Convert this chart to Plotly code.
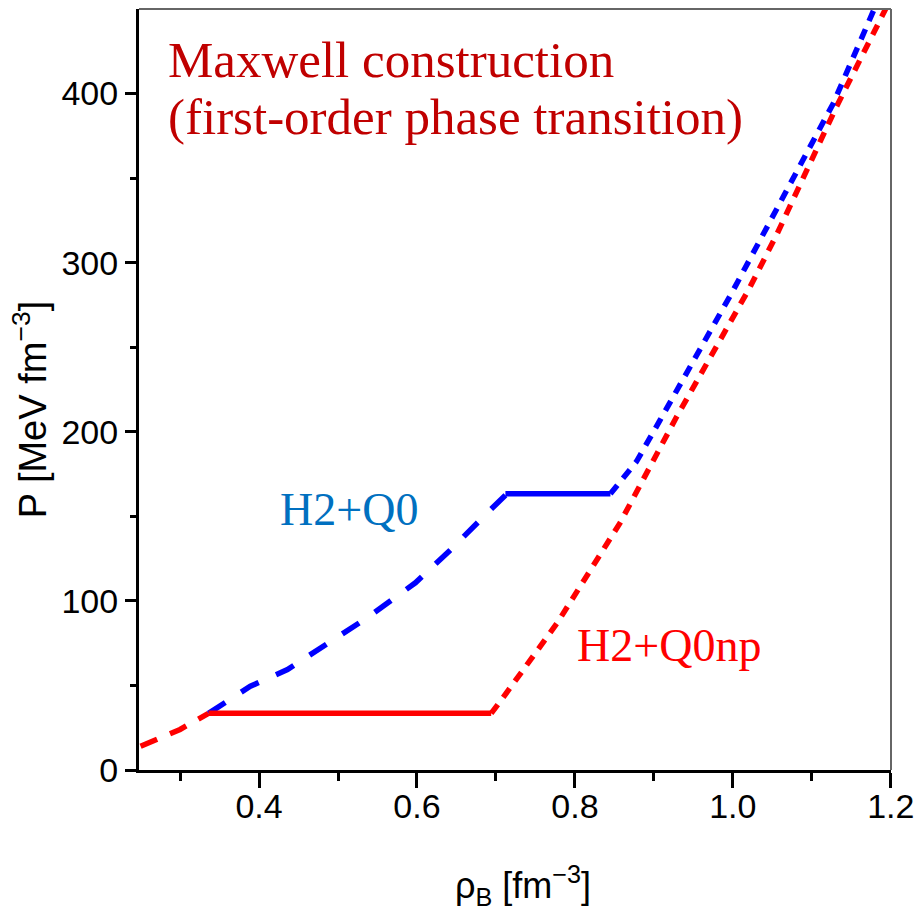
import plotly.graph_objects as go

# Baryon density [fm^-3] and pressure [MeV fm^-3]
# H2+Q0np (red): hadronic branch, Maxwell plateau, quark branch
red_low_rho = [0.25, 0.30, 0.336]
red_low_p = [14.0, 24.0, 33.5]
red_mix_rho = [0.336, 0.694]
red_mix_p = [33.5, 33.5]
red_high_rho = [0.694, 0.709, 0.778, 0.857, 0.929, 1.020, 1.056, 1.131, 1.194, 1.20]
red_high_p = [33.5, 42.8, 87.2, 146.0, 209.0, 284.0, 317.0, 392.0, 450.5, 457.0]

# H2+Q0 (blue): hadronic branch, Maxwell plateau, quark branch
blue_low_rho = [0.336, 0.389, 0.436, 0.490, 0.537, 0.598, 0.642, 0.689, 0.712]
blue_low_p = [33.5, 49.5, 59.4, 75.3, 90.0, 110.7, 130.0, 152.0, 162.5]
blue_mix_rho = [0.712, 0.845]
blue_mix_p = [163.3, 163.3]
blue_high_rho = [0.845, 0.857, 0.878, 0.908, 0.937, 0.9985, 1.127, 1.18]
blue_high_p = [163.3, 169.8, 182.4, 207.0, 230.7, 282.0, 394.0, 451.0]

x_ticks = [0.4, 0.6, 0.8, 1.0, 1.2]
x_ticktext = ["0.4", "0.6", "0.8", "1.0", "1.2"]
y_ticks = [0, 100, 200, 300, 400]

RED = "#FF0000"
BLUE = "#0000FF"
LW = 5.5
X_RANGE = [0.248, 1.2003]

fig = go.Figure()

def add_line(x, y, color, dash, xaxis="x"):
    fig.add_trace(go.Scatter(x=x, y=y, mode="lines", xaxis=xaxis,
                             line=dict(color=color, width=LW, dash=dash),
                             showlegend=False, hoverinfo="skip"))

add_line(red_low_rho, red_low_p, RED, "18px,14px")
add_line(red_high_rho, red_high_p, RED, "11px,9px")
add_line(blue_low_rho, blue_low_p, BLUE, "20px,19px")
add_line(blue_high_rho, blue_high_p, BLUE, "11px,9px")
add_line(blue_mix_rho, blue_mix_p, BLUE, "solid")
add_line(red_mix_rho, red_mix_p, RED, "solid", xaxis="x2")

tick_font = dict(family="Liberation Sans, Arial", size=34, color="black")

# bottom axis: line and ticks
fig.update_layout(xaxis=dict(
    range=X_RANGE, tickvals=x_ticks, showticklabels=False, automargin=False,
    ticks="outside", ticklen=15, tickwidth=3, tickcolor="black",
    minor=dict(tickvals=[0.3, 0.5, 0.7, 0.9, 1.1], ticks="outside",
               ticklen=8, tickwidth=3, tickcolor="black"),
    showline=True, linewidth=3, linecolor="black", mirror=False,
    showgrid=False, zeroline=False))
# overlaid axis carrying the tick labels just below the tick ends
fig.update_layout(xaxis2=dict(
    range=X_RANGE, overlaying="x", anchor="y", side="bottom", automargin=False,
    tickvals=x_ticks, ticktext=x_ticktext, ticks="outside", ticklen=6,
    tickcolor="rgba(0,0,0,0)", ticklabeloverflow="allow",
    showline=False, showgrid=False, zeroline=False, tickfont=tick_font))

fig.update_yaxes(range=[0, 450], tickvals=y_ticks, automargin=False,
                 ticks="outside", ticklen=11, tickwidth=3, tickcolor="black",
                 minor=dict(tickvals=[50, 150, 250, 350], ticks="outside",
                            ticklen=6, tickwidth=3, tickcolor="black"),
                 showline=True, linewidth=3, linecolor="black", mirror=False,
                 showgrid=False, zeroline=False, tickfont=tick_font)

# thin frame on top and right
fig.add_shape(type="line", xref="paper", yref="paper", x0=0, x1=1, y0=1, y1=1,
              line=dict(color="#666666", width=2))
fig.add_shape(type="line", xref="paper", yref="paper", x0=1, x1=1, y0=0, y1=1,
              line=dict(color="#666666", width=2))

L, R, T, B = 138.5, 23, 9, 153.5
W, H = 914, 924
PW, PH = W - L - R, H - T - B

def px(xp):
    return (xp - L) / PW

def py(yp):
    return (H - B - yp) / PH

serif = "Liberation Serif, Times New Roman, serif"
fig.add_annotation(text="Maxwell construction", x=px(166), y=py(60),
                   xref="paper", yref="paper", xanchor="left", yanchor="middle",
                   showarrow=False, font=dict(family=serif, size=51, color="#C00000"))
fig.add_annotation(text="(first-order phase transition)", x=px(166), y=py(117),
                   xref="paper", yref="paper", xanchor="left", yanchor="middle",
                   showarrow=False, font=dict(family=serif, size=51, color="#C00000"))
fig.add_annotation(text="H2+Q0", x=px(278), y=py(510),
                   xref="paper", yref="paper", xanchor="left", yanchor="middle",
                   showarrow=False, font=dict(family=serif, size=46, color="#0070C0"))
fig.add_annotation(text="H2+Q0np", x=px(575), y=py(646),
                   xref="paper", yref="paper", xanchor="left", yanchor="middle",
                   showarrow=False, font=dict(family=serif, size=46, color=RED))

axis_font = dict(family="Liberation Sans, Arial", size=36, color="black")
fig.add_annotation(text="ρ<sub>B</sub> [fm<sup>−3</sup>]", x=px(523), y=py(886),
                   xref="paper", yref="paper", xanchor="center", yanchor="middle",
                   showarrow=False, font=axis_font)
fig.add_annotation(text="P [MeV fm<sup>−3</sup>]", x=px(29), y=py(410),
                   xref="paper", yref="paper", xanchor="center", yanchor="middle",
                   textangle=-90, showarrow=False,
                   font=dict(family="Liberation Sans, Arial", size=38, color="black"))

fig.update_layout(width=W, height=H, margin=dict(l=L, r=R, t=T, b=B),
                  paper_bgcolor="white", plot_bgcolor="white")

fig.write_html("out.html")
